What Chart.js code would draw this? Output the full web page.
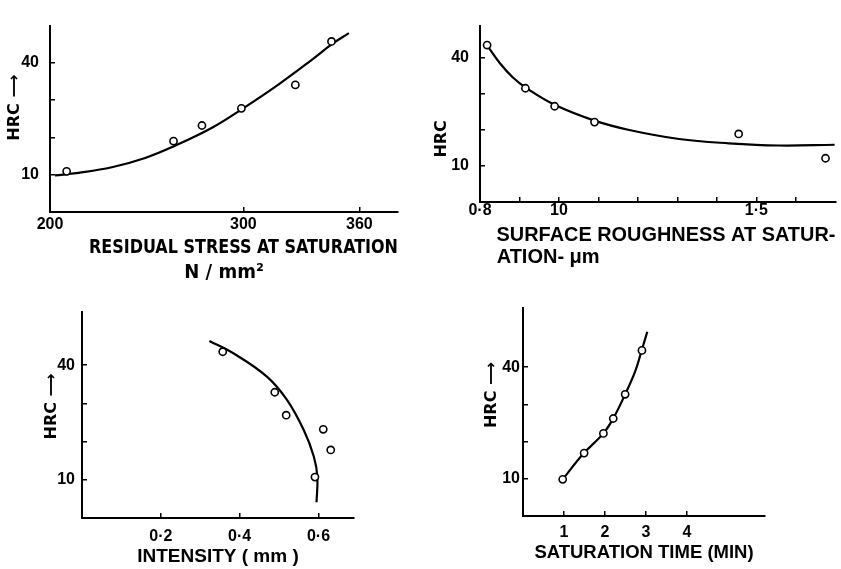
<!DOCTYPE html>
<html><head><meta charset="utf-8">
<script src="https://cdn.jsdelivr.net/npm/chart.js@4.4.1/dist/chart.umd.min.js"></script>
<style>
html,body{margin:0;padding:0;background:#fff;width:841px;height:569px;overflow:hidden;position:relative;}
canvas{position:absolute;}
</style></head><body>
<canvas id="c1"></canvas><canvas id="c2"></canvas><canvas id="c3"></canvas><canvas id="c4"></canvas>
<script>
// ---- Panel 1: residual stress at saturation ----
const p1StressPts = [208.6, 263.9, 278.6, 299, 326.9, 345.6];
const p1HrcPts = [10.9, 19, 23.2, 27.8, 34.1, 45.75];
const p1StressCurve = [202.6, 214.7, 232, 249.2, 263.9, 283.8, 299.3, 318.3, 335.6, 346, 354.6];
const p1HrcCurve = [9.8, 10.5, 12, 14.5, 17.6, 22.6, 27.6, 34.25, 40.9, 45.1, 48];
const p1XTicks = [200, 300, 360];
const p1XLabels = ['200', '300', '360'];

// ---- Panel 2: surface roughness at saturation ----
const p2RoughPts = [0.818, 0.915, 0.989, 1.09, 1.455, 1.675];
const p2HrcPts = [43.6, 31.6, 26.6, 22.2, 18.9, 12.15];
const p2RoughCurve = [0.818, 0.850, 0.884, 0.918, 0.989, 1.090, 1.178, 1.304, 1.430, 1.556, 1.698];
const p2HrcCurve = [43.5, 38.6, 34.5, 31.6, 27, 22.6, 20, 17.5, 16.3, 15.7, 15.9];
const p2XTicks = [0.8, 0.9, 1.0, 1.1, 1.2, 1.3, 1.4, 1.5, 1.6];
const p2XLabels = ['0·8', '', '10', '', '', '', '', '1·5', ''];

// ---- Panel 3: intensity ----
const p3IntensityPts = [0.357, 0.489, 0.518, 0.612, 0.631, 0.591];
const p3HrcPts = [43.5, 32.9, 26.9, 23.2, 17.8, 10.7];
const p3IntensityCurve = [0.323, 0.384, 0.469, 0.52, 0.5625, 0.588, 0.597, 0.595];
const p3HrcCurve = [46.3, 43.1, 37, 30.9, 23, 16.1, 10.9, 4.1];
const p3XTicks = [0.2, 0.4, 0.6];
const p3XLabels = ['0·2', '0·4', '0·6'];

// ---- Panel 4: saturation time ----
const p4TimePts = [0.968, 1.49, 1.96, 2.2, 2.49, 2.9];
const p4HrcPts = [9.85, 16.9, 22.2, 26.2, 32.7, 44.5];
const p4TimeCurve = [0.968, 1.47, 1.96, 2.2, 2.49, 2.73, 2.9, 3.03];
const p4HrcCurve = [9.85, 16.7, 22.2, 26.2, 32.7, 38.7, 44.75, 49.5];
const p4XTicks = [1, 2, 3, 4];
const p4XLabels = ['1', '2', '3', '4'];

// ---- shared HRC axis ----
const hrcTicks = [10, 20, 30, 40];
const hrcLabels = ['10', '', '', '40'];

const BOLD = "'Liberation Sans', Arial, sans-serif";
const DJV = "'DejaVu Sans', 'Liberation Sans', sans-serif";
const NARROW = "'Liberation Sans Narrow', 'DejaVu Sans Condensed', 'Liberation Sans', sans-serif";

function zip(xs, ys) { return xs.map((x, i) => ({x: x, y: ys[i]})); }

function panel(id, o) {
  const cv = document.getElementById(id);
  cv.width = o.w; cv.height = o.h;
  cv.style.left = o.left + 'px'; cv.style.top = o.top + 'px';
  cv.style.width = o.w + 'px'; cv.style.height = o.h + 'px';
  return new Chart(cv, {
    type: 'scatter',
    data: {
      datasets: [
        {
          data: zip(o.curveX, o.curveY), showLine: true, pointRadius: 0,
          borderColor: '#000', borderWidth: 2.2, fill: false,
          tension: 0.4, order: 2
        },
        {
          data: zip(o.ptsX, o.ptsY), showLine: false, pointRadius: 3.6,
          pointBorderWidth: 1.6, pointBorderColor: '#000', pointBackgroundColor: '#fff', order: 1
        }
      ]
    },
    options: {
      responsive: false, animation: false, devicePixelRatio: 1,
      layout: { padding: { top: o.padTop, right: o.padRight, left: 0, bottom: 0 } },
      plugins: { legend: { display: false }, tooltip: { enabled: false } },
      scales: {
        x: {
          type: 'linear', min: o.xMin, max: o.xMax,
          afterBuildTicks: s => { s.ticks = o.xTicks.map(v => ({ value: v })); },
          afterFit: s => { s.height = o.xAxisH; },
          ticks: {
            autoSkip: false, maxRotation: 0, color: '#000', padding: o.xTickPad,
            font: { family: BOLD, size: 16, weight: 'bold' },
            callback: (v, i) => o.xLabels[i]
          },
          grid: { drawOnChartArea: false, drawTicks: true, tickLength: -5, color: '#000', lineWidth: 1.5 },
          border: { display: true, color: '#000', width: 2 },
          title: {
            display: true, text: o.xTitle, color: '#000', align: o.xTitleAlign || 'center',
            font: o.xTitleFont, padding: { top: 0, bottom: o.xTitlePadB }
          }
        },
        y: {
          type: 'linear', min: o.yMin, max: o.yMax,
          afterBuildTicks: s => { s.ticks = hrcTicks.map(v => ({ value: v })); },
          afterFit: s => { s.width = o.yAxisW; },
          ticks: {
            autoSkip: false, color: '#000', padding: o.yTickPad,
            font: { family: BOLD, size: 16, weight: 'bold' },
            callback: (v, i) => hrcLabels[i]
          },
          grid: { drawOnChartArea: false, drawTicks: true, tickLength: -5, color: '#000', lineWidth: 1.5 },
          border: { display: true, color: '#000', width: 2 },
          title: {
            display: true, text: o.yTitle, color: '#000',
            font: { family: DJV, size: 16, weight: 'bold', lineHeight: 1.2 },
            padding: { top: 5, bottom: 0 }
          }
        }
      }
    }
  });
}

panel('c1', {
  left: 0, top: 0, w: 410, h: 285, padTop: 12, padRight: 12, yAxisW: 50, xAxisH: 73,
  xMin: 200, xMax: 380, yMin: 0, yMax: 50,
  ptsX: p1StressPts, ptsY: p1HrcPts, curveX: p1StressCurve, curveY: p1HrcCurve,
  xTicks: p1XTicks, xLabels: p1XLabels, xTickPad: 8, yTickPad: 16,
  xTitle: ['       RESIDUAL STRESS AT SATURATION', 'N / mm²'],
  xTitleFont: { family: NARROW, size: 20, weight: 'bold', lineHeight: 1.25 }, xTitlePadB: 0,
  yTitle: '    HRC ⟶'
});

panel('c2', {
  left: 427, top: 0, w: 414, h: 270, padTop: 5, padRight: 3, yAxisW: 53, xAxisH: 68,
  xMin: 0.8, xMax: 1.70, yMin: 0, yMax: 49,
  ptsX: p2RoughPts, ptsY: p2HrcPts, curveX: p2RoughCurve, curveY: p2HrcCurve,
  xTicks: p2XTicks, xLabels: p2XLabels, xTickPad: 4, yTickPad: 16,
  xTitle: ['   SURFACE ROUGHNESS AT SATUR-', '   ATION- μm'], xTitleAlign: 'start',
  xTitleFont: { family: BOLD, size: 20, weight: 'bold', lineHeight: 1.1 }, xTitlePadB: 2,
  yTitle: 'HRC         '
});

panel('c3', {
  left: 37, top: 290, w: 330, h: 279, padTop: 21, padRight: 13, yAxisW: 45, xAxisH: 51,
  xMin: 0, xMax: 0.69, yMin: 0, yMax: 54,
  ptsX: p3IntensityPts, ptsY: p3HrcPts, curveX: p3IntensityCurve, curveY: p3HrcCurve,
  xTicks: p3XTicks, xLabels: p3XLabels, xTickPad: 14, yTickPad: 12,
  xTitle: 'INTENSITY ( mm )',
  xTitleFont: { family: BOLD, size: 19, weight: 'bold', lineHeight: 1.2 }, xTitlePadB: 1,
  yTitle: '   HRC ⟶'
});

panel('c4', {
  left: 477, top: 290, w: 364, h: 279, padTop: 10, padRight: 76, yAxisW: 46, xAxisH: 53,
  xMin: 0, xMax: 5.9, yMin: 0, yMax: 56,
  ptsX: p4TimePts, ptsY: p4HrcPts, curveX: p4TimeCurve, curveY: p4HrcCurve,
  xTicks: p4XTicks, xLabels: p4XLabels, xTickPad: 12, yTickPad: 8,
  xTitle: 'SATURATION TIME (MIN)',
  xTitleFont: { family: BOLD, size: 18.5, weight: 'bold', lineHeight: 1.2 }, xTitlePadB: 5,
  yTitle: '      HRC ⟶'
});
</script>
</body></html>
